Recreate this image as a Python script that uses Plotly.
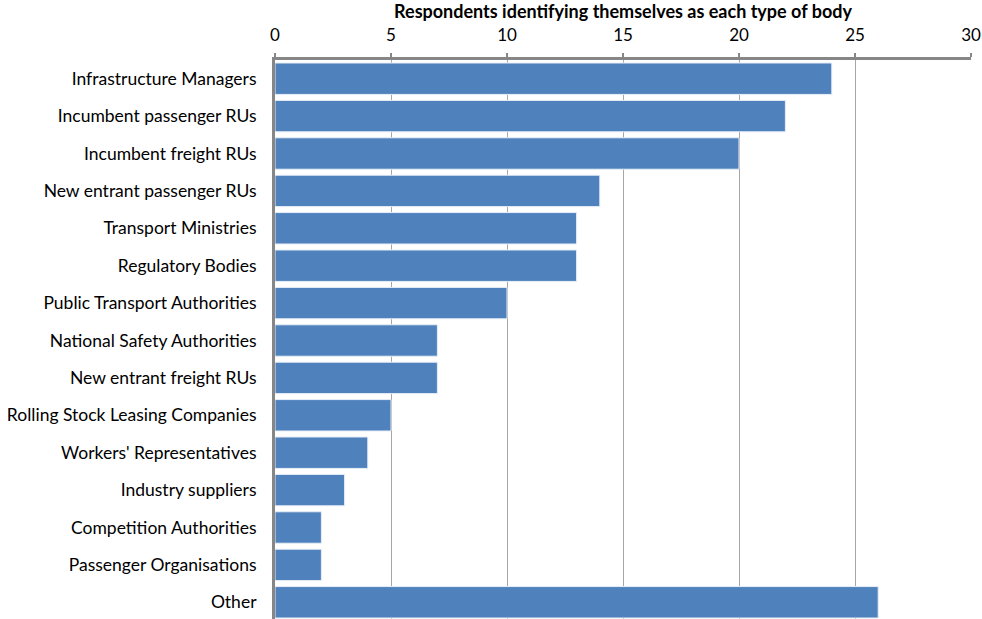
import plotly.graph_objects as go

categories = [
    "Infrastructure Managers",
    "Incumbent passenger RUs",
    "Incumbent freight RUs",
    "New entrant passenger RUs",
    "Transport Ministries",
    "Regulatory Bodies",
    "Public Transport Authorities",
    "National Safety Authorities",
    "New entrant freight RUs",
    "Rolling Stock Leasing Companies",
    "Workers' Representatives",
    "Industry suppliers",
    "Competition Authorities",
    "Passenger Organisations",
    "Other",
]
respondents = [24, 22, 20, 14, 13, 13, 10, 7, 7, 5, 4, 3, 2, 2, 26]
x_ticks = [0, 5, 10, 15, 20, 25, 30]

W, H = 982, 619
top, left, right = 60, 275, 11
n = len(categories)
step = 37.4  # pixels per category
bottom_val = -0.5 + (H - top) / step

fig = go.Figure(
    go.Bar(
        x=respondents,
        y=list(range(n)),
        orientation="h",
        marker=dict(color="#4F81BD", line=dict(color="#E8EEF7", width=1)),
        width=0.84,
        hoverinfo="x+y",
    )
)

fig.update_layout(
    width=W,
    height=H,
    margin=dict(l=left, r=right, t=top, b=0, pad=0),
    plot_bgcolor="white",
    paper_bgcolor="white",
    font=dict(family="Lato, 'Open Sans', sans-serif", size=17, color="#000000"),
    showlegend=False,
    title=dict(
        text="<b>Respondents identifying themselves as each type of body</b>",
        x=(left + (W - right)) / 2 / W,
        xanchor="center",
        y=1 - 12 / H,
        yanchor="middle",
        yref="container",
        font=dict(size=18, color="#000000"),
    ),
)

fig.update_xaxes(
    side="top",
    range=[0, 30],
    tickvals=x_ticks,
    ticktext=[str(v) for v in x_ticks],
    showgrid=True,
    gridcolor="#A6A6A6",
    gridwidth=1,
    zeroline=False,
    showline=True,
    linecolor="#868686",
    linewidth=3,
    ticks="outside",
    ticklen=4,
    tickwidth=2,
    tickcolor="#868686",
    tickfont=dict(size=17),
    ticklabelstandoff=5,
    fixedrange=True,
)

fig.update_yaxes(
    range=[bottom_val, -0.5],
    tickvals=list(range(n)),
    ticktext=categories,
    showgrid=False,
    zeroline=False,
    showline=True,
    linecolor="#868686",
    linewidth=3,
    ticks="",
    ticklabelstandoff=12,
    tickfont=dict(size=17.5),
    fixedrange=True,
)

fig.write_html("out.html")
